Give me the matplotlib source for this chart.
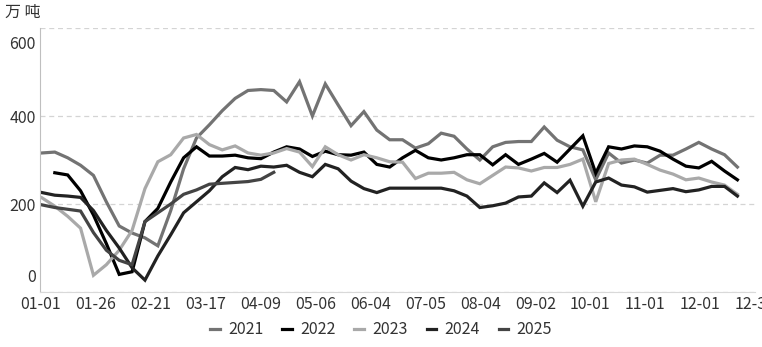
import matplotlib
matplotlib.use('Agg')
import matplotlib.pyplot as plt
from matplotlib.transforms import ScaledTranslation
import numpy as np

plt.rcParams['font.family'] = ['Noto Sans CJK SC', 'DejaVu Sans']

# weekly points, one per week of the year
weeks = np.arange(55)
tick_labels = ['01-01', '01-26', '02-21', '03-17', '04-09', '05-06', '06-04',
               '07-05', '08-04', '09-02', '10-01', '11-01', '12-01', '12-31']
weeks_per_label = 4.265

y2021 = [316, 318, 305, 288, 265, 205, 150, 134, 123, 105, 185, 280, 350, 380,
         412, 440, 458, 460, 458, 432, 478, 400, 473, 425, 378, 410, 368, 346,
         346, 327, 337, 361, 354, 325, 300, 330, 340, 342, 342, 375, 345, 330,
         323, 255, 316, 293, 300, 293, 311, 311, 325, 340, 325, 312, 284]
y2022 = [np.nan, 271, 266, 230, 175, 110, 40, 46, 160, 190, 250, 305, 330, 309,
         309, 311, 305, 303, 318, 330, 325, 308, 320, 312, 311, 318, 290, 284,
         305, 322, 305, 300, 305, 312, 312, 289, 312, 290, 302, 315, 295, 325,
         355, 270, 330, 325, 332, 330, 320, 302, 286, 282, 297, 275, 255]
y2023 = [214, 195, 172, 145, 38, 62, 95, 140, 235, 296, 312, 350, 358, 335,
         323, 332, 316, 311, 316, 326, 318, 285, 330, 312, 300, 312, 305, 296,
         295, 258, 270, 270, 272, 255, 246, 265, 284, 282, 275, 283, 283, 290,
         302, 205, 292, 300, 302, 290, 277, 268, 255, 259, 250, 243, 222]
y2024 = [226, 220, 218, 215, 185, 140, 100, 55, 27, 82, 130, 180, 205, 230,
         262, 283, 278, 286, 284, 288, 272, 262, 290, 280, 252, 235, 226, 236,
         236, 236, 236, 236, 230, 218, 192, 196, 202, 216, 218, 248, 226, 254,
         195, 250, 259, 243, 239, 227, 231, 235, 228, 232, 240, 240, 218]
y2025 = [198, 192, 188, 184, 135, 95, 72, 62, 160, 180, 200, 222, 232, 245,
         247, 249, 251, 256, 272]

series = [('2021', y2021, '#737373'),
          ('2022', y2022, '#000000'),
          ('2023', y2023, '#a9a9a9'),
          ('2024', y2024, '#222222'),
          ('2025', y2025, '#444444')]

fig = plt.figure(figsize=(7.62, 3.47), dpi=100)
ax = fig.add_axes([0.0525, 0.1585, 0.9383, 0.7608])

for name, vals, color in series:
    ax.plot(weeks[:len(vals)], vals, color=color, lw=2.3, label=name,
            solid_joinstyle='miter')

ax.set_ylim(0, 600)
ax.set_xlim(-0.15, 54.6)
ax.set_yticks([0, 200, 400, 600])
ticks = np.arange(len(tick_labels)) * weeks_per_label - 0.08
ax.set_xticks(ticks)
ax.set_xticklabels(tick_labels)
ax.tick_params(length=0, labelsize=11.5, colors='#333333')
ax.tick_params(axis='y', pad=3)
ax.tick_params(axis='x', pad=3)

# end labels sit inside the axis range, as in the source chart
yt = ax.yaxis.get_major_ticks()
yt[0].label1.set_transform(yt[0].label1.get_transform()
                           + ScaledTranslation(0, 0.17, fig.dpi_scale_trans))
yt[-1].label1.set_transform(yt[-1].label1.get_transform()
                            + ScaledTranslation(0, -0.14, fig.dpi_scale_trans))

ax.grid(axis='y', color='#d4d4d4', linestyle=(0, (4, 3)), lw=0.9)
ax.set_axisbelow(True)
for s in ['top', 'right']:
    ax.spines[s].set_visible(False)
ax.spines['left'].set_color('#bfbfbf')
ax.spines['bottom'].set_color('#d9d9d9')

fig.text(0.007, 0.965, '万 吨', fontsize=11.5, color='#333333', va='center')

fig.legend(loc='center', bbox_to_anchor=(0.5, 0.049), ncol=5, frameon=False,
           fontsize=11.5, handlelength=0.6, handletextpad=0.5,
           columnspacing=1.2, labelcolor='#333333')

fig.savefig('out.png', dpi=100)
